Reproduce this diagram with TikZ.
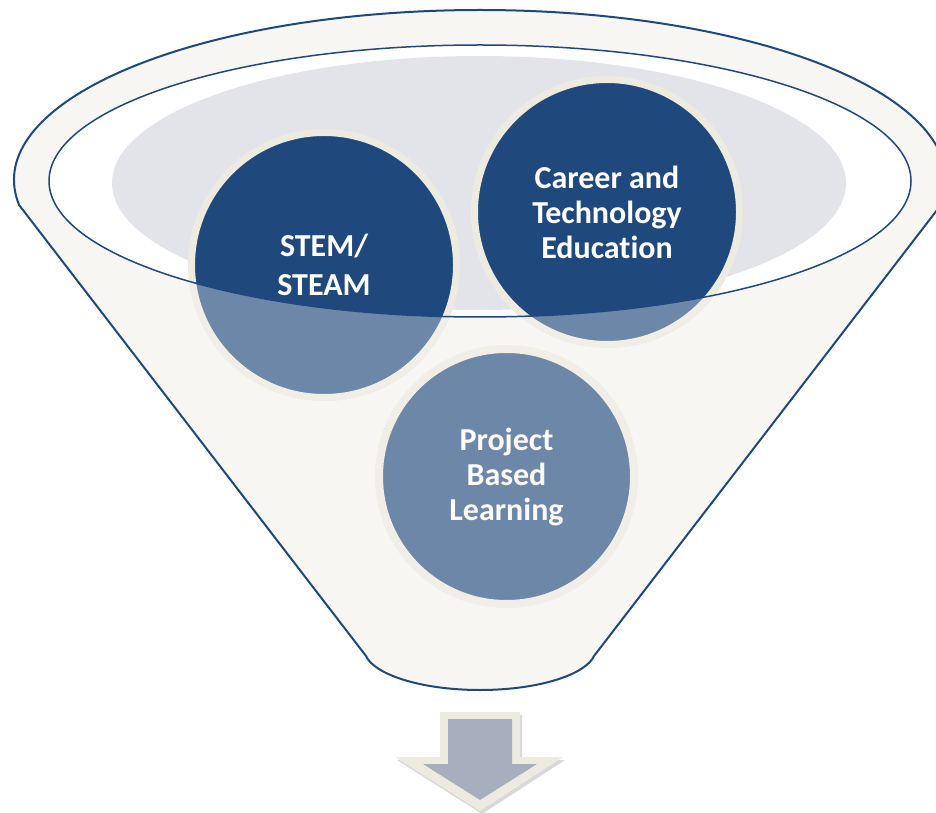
\documentclass[tikz,border=0pt]{standalone}
\usepackage{fontspec}
\setmainfont{Carlito}[Ligatures=NoCommon,RawFeature={-calt;-clig;-liga}]
\usepackage{tikz}
\usetikzlibrary{calc,positioning,shapes,shadows,backgrounds}
\definecolor{rimblue}{HTML}{1F497D}
\definecolor{bubbleblue}{HTML}{1F497D}
\definecolor{funnelcream}{HTML}{F7F6F2}
\definecolor{ringcream}{HTML}{EDEBE0}
\definecolor{mouthgray}{HTML}{E3E4E9}
\definecolor{arrowgray}{HTML}{A7AEBE}
\tikzset{
	bubble/.style={shape=circle,draw=ringcream,line width=7pt,fill=bubbleblue,text=white,align=center,inner sep=0pt,font=\bfseries\fontsize{32}{35}\selectfont},
	softshadow/.style={drop shadow={shadow xshift=2pt,shadow yshift=-3pt,opacity=0.22,fill=black!70}}
}
\newcommand{\funnelpath}{(19.1,607) arc[start angle=188.46,end angle=-8.46,x radius=466,y radius=170] -- (594,156) .. controls (586,138) and (540,122) .. (480,122) .. controls (420,122) and (374,138) .. (366,156) -- cycle}

\begin{document}
\begin{tikzpicture}[x=1pt,y=1pt]
		\useasboundingbox (0,0) rectangle (936,812);
		\clip (0,0) rectangle (936,812);
		\begin{scope}
			% funnel body and mouth
			\fill[funnelcream] \funnelpath;
			\fill[white] (480,631) ellipse[x radius=431,y radius=136];
			\fill[mouthgray] (479,629) ellipse[x radius=367,y radius=127];
			% the three bubbles
			\node(stem) [bubble,softshadow,minimum size=265pt] at (324,547) {STEM/\\[4pt]STEAM};
			\node(cte) [bubble,softshadow,minimum size=265pt] at (607,600) {Career and\\Technology\\Education};
			\node(pbl) [bubble,softshadow,line width=8pt,minimum size=255pt] at (506.5,335.5) {Project\\Based\\Learning};
			% front of the funnel over the bubbles
			\fill[funnelcream,fill opacity=0.36,even odd rule] \funnelpath (480,631) ellipse[x radius=431,y radius=136];
			\draw[rimblue,line width=2pt,line join=round] \funnelpath;
			\draw[rimblue,line width=1.5pt] (480,631) ellipse[x radius=431,y radius=136];
			% arrow out of the funnel
			\fill[ringcream,softshadow] (440,100) -- (520,100) -- (520,55) -- (563,55) -- (480,1) -- (395,55) -- (440,55) -- cycle;
			\fill[arrowgray] (448,93) -- (512,93) -- (512,48) -- (537,48) -- (480,12) -- (423,48) -- (448,48) -- cycle;
		\end{scope}
\end{tikzpicture}
\end{document}
